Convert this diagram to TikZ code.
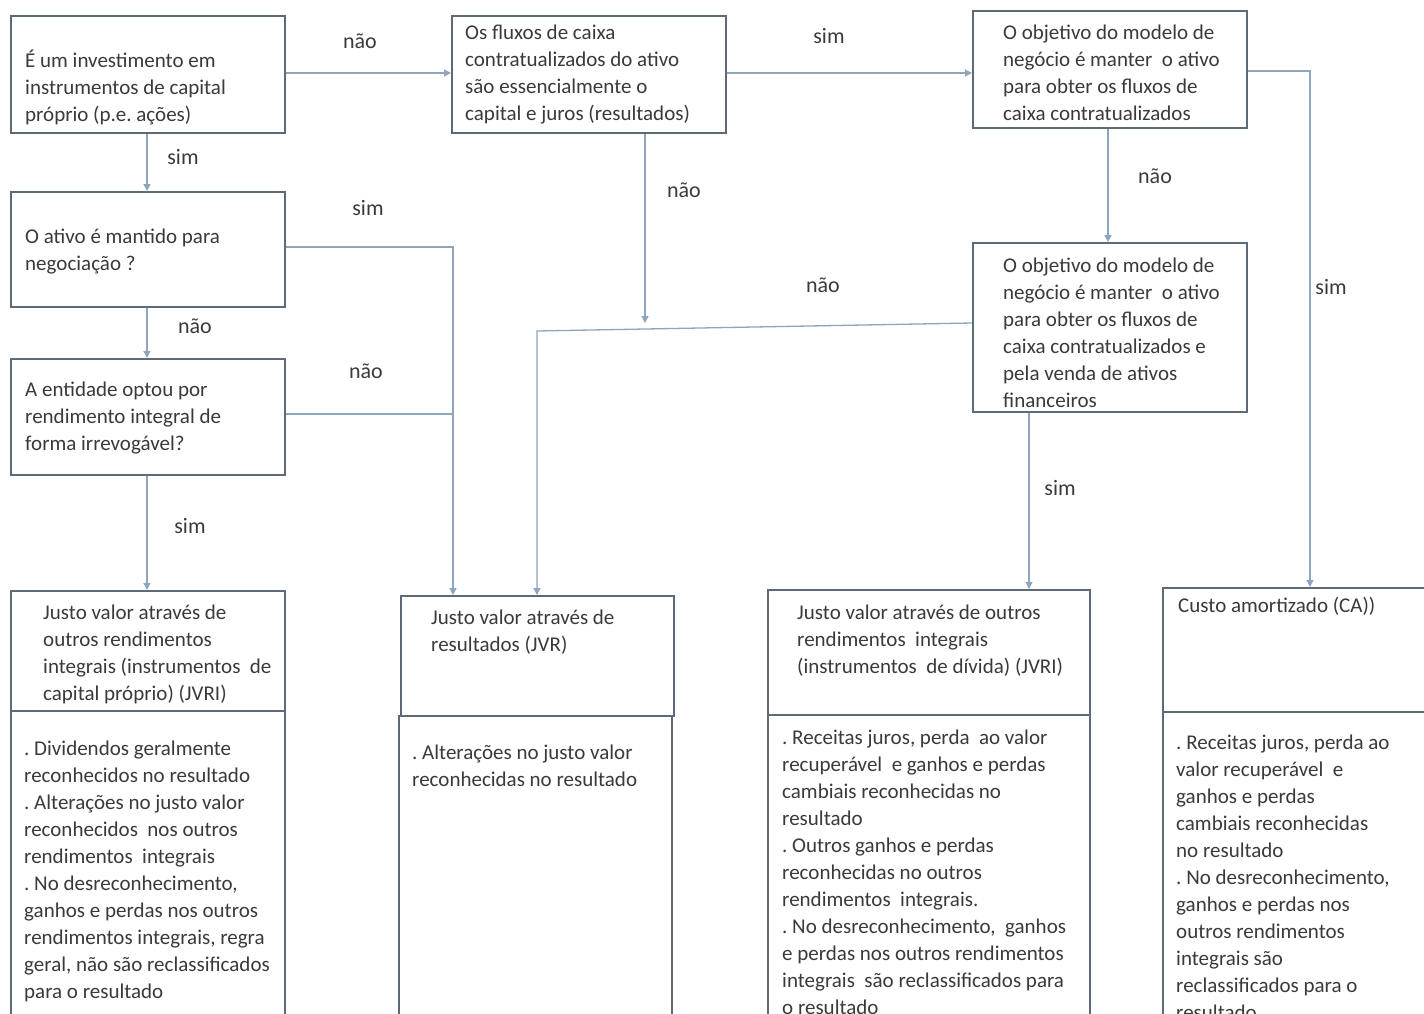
\documentclass[tikz,border=0pt]{standalone}
\usepackage{fontspec}
\setmainfont{Carlito}
\usetikzlibrary{arrows.meta}
\definecolor{boxc}{HTML}{5E6A77}
\definecolor{linec}{HTML}{8EA5BE}
\definecolor{txtc}{HTML}{3A3A3A}
\frenchspacing
\begin{document}
\begin{tikzpicture}[x=1pt,y=-1pt,
  qbox/.style={draw=boxc,line width=1.6pt,rectangle,inner sep=0,anchor=north west},
  btxt/.style={anchor=north west,inner sep=0,align=left,text=txtc,font=\fontsize{21}{27}\selectfont},
  lbl/.style={inner sep=0,text=txtc,font=\fontsize{22}{26}\selectfont},
  conn/.style={draw=linec,line width=1.3pt},
  arr/.style={conn,-{Triangle[length=7pt,width=7pt]}}]
\useasboundingbox (0,0) rectangle (1424,1014);
\clip (0,0) rectangle (1424,1014);
\fill[white] (0,0) rectangle (1424,1014);

% question boxes
\node[qbox,minimum width=274pt,minimum height=117pt] (b1) at (10,15) {};
\node[qbox,minimum width=274pt,minimum height=117pt] (b2) at (451,15) {};
\node[qbox,minimum width=274pt,minimum height=117pt] (b3) at (972,10) {};
\node[qbox,minimum width=274pt,minimum height=115pt] (b4) at (10,191) {};
\node[qbox,minimum width=274pt,minimum height=116pt] (b5) at (10,358) {};
\node[qbox,minimum width=274pt,minimum height=169pt] (b6) at (972,242) {};

% result boxes (header + body)
\node[qbox,minimum width=274pt,minimum height=120pt] (r1) at (10,590) {};
\node[qbox,minimum width=274pt,minimum height=320pt] (r1b) at (10,710) {};
\node[qbox,minimum width=273pt,minimum height=120pt] (r2) at (400,595) {};
\node[qbox,minimum width=273pt,minimum height=320pt] (r2b) at (398,715) {};
\node[qbox,minimum width=322pt,minimum height=125pt] (r3) at (767,589) {};
\node[qbox,minimum width=322pt,minimum height=320pt] (r3b) at (767,714) {};
\node[qbox,minimum width=280pt,minimum height=124pt] (r4) at (1162,587) {};
\node[qbox,minimum width=280pt,minimum height=320pt] (r4b) at (1162,711) {};

% texts
\node[btxt] (t1) at (25,48) {\strut É um investimento em\\instrumentos de capital\\próprio (p.e. ações)};
\node[btxt] (t2) at (465,20) {\strut Os fluxos de caixa\\contratualizados do ativo\\são essencialmente o\\capital e juros (resultados)};
\node[btxt] (t3) at (1003,20) {\strut O objetivo do modelo de\\negócio é manter \ o ativo\\para obter os fluxos de\\caixa contratualizados};
\node[btxt] (t4) at (25,224) {\strut O ativo é mantido para\\negociação ?};
\node[btxt] (t5) at (25,377) {\strut A entidade optou por\\rendimento integral de\\forma irrevogável?};
\node[btxt] (t6) at (1003,253) {\strut O objetivo do modelo de\\negócio é manter \ o ativo\\para obter os fluxos de\\caixa contratualizados e\\pela venda de ativos\\financeiros};
\node[btxt] (t7) at (43,600) {\strut Justo valor através de\\outros rendimentos\\integrais (instrumentos \ de\\capital próprio) (JVRI)};
\node[btxt] (t8) at (24,736) {\strut . Dividendos geralmente\\reconhecidos no resultado\\. Alterações no justo valor\\reconhecidos \ nos outros\\rendimentos \ integrais\\. No desreconhecimento,\\ganhos e perdas nos outros\\rendimentos integrais, regra\\geral, não são reclassificados\\para o resultado};
\node[btxt] (t9) at (431,605) {\strut Justo valor através de\\resultados (JVR)};
\node[btxt] (t10) at (412,740) {\strut . Alterações no justo valor\\reconhecidas no resultado};
\node[btxt] (t11) at (797,600) {\strut Justo valor através de outros\\rendimentos \ integrais\\(instrumentos \ de dívida) (JVRI)};
\node[btxt] (t12) at (782,725) {\strut . Receitas juros, perda \ ao valor\\recuperável \ e ganhos e perdas\\cambiais reconhecidas no\\resultado\\. Outros ganhos e perdas\\reconhecidas no outros\\rendimentos \ integrais.\\. No desreconhecimento, \ ganhos\\e perdas nos outros rendimentos\\integrais \ são reclassificados para\\o resultado};
\node[btxt] (t13) at (1178,593) {\strut Custo amortizado (CA))};
\node[btxt] (t14) at (1176,730) {\strut . Receitas juros, perda ao\\valor recuperável \ e\\ganhos e perdas\\cambiais reconhecidas\\no resultado\\. No desreconhecimento,\\ganhos e perdas nos\\outros rendimentos\\integrais são\\reclassificados para o\\resultado};

% junction coordinates
\coordinate (j1) at (453,247);
\coordinate (j2) at (453,414);
\coordinate (j3) at (537,331);
\coordinate (j4) at (645,323);
\coordinate (j5) at (1310,71);

% connectors
\draw[arr] (b1.east |- 0,73) -- (b2.west |- 0,73);
\draw[arr] (b1.south -| 147,0) -- (b4.north -| 147,0);
\draw[arr] (b2.east |- 0,73) -- (b3.west |- 0,73);
\draw[arr] (b2.south -| 645,0) -- (j4);
\draw[arr] (b3.south -| 1108,0) -- (b6.north -| 1108,0);
\draw[arr] (b3.east |- 0,71) -- (j5) -- (r4.north -| j5);
\draw[arr] (b4.east |- j1) -- (j1) -- (r2.north -| j1);
\draw[arr] (b4.south -| 147,0) -- (b5.north -| 147,0);
\draw[conn] (b5.east |- j2) -- (j2);
\draw[arr] (b5.south -| 147,0) -- (r1.north -| 147,0);
\draw[arr] (b6.west |- 0,323) -- (j3) -- (r2.north -| j3);
\draw[arr] (b6.south -| 1029,0) -- (r3.north -| 1029,0);

% labels
\node[lbl] (l1) at (360,41) {não};
\node[lbl] (l2) at (183,157) {sim};
\node[lbl] (l3) at (829,36) {sim};
\node[lbl] (l4) at (684,190) {não};
\node[lbl] (l5) at (1155,176) {não};
\node[lbl] (l6) at (1331,287) {sim};
\node[lbl] (l7) at (368,208) {sim};
\node[lbl] (l8) at (195,326) {não};
\node[lbl] (l9) at (366,371) {não};
\node[lbl] (l10) at (190,526) {sim};
\node[lbl] (l11) at (823,285) {não};
\node[lbl] (l12) at (1060,488) {sim};
\end{tikzpicture}
\end{document}
